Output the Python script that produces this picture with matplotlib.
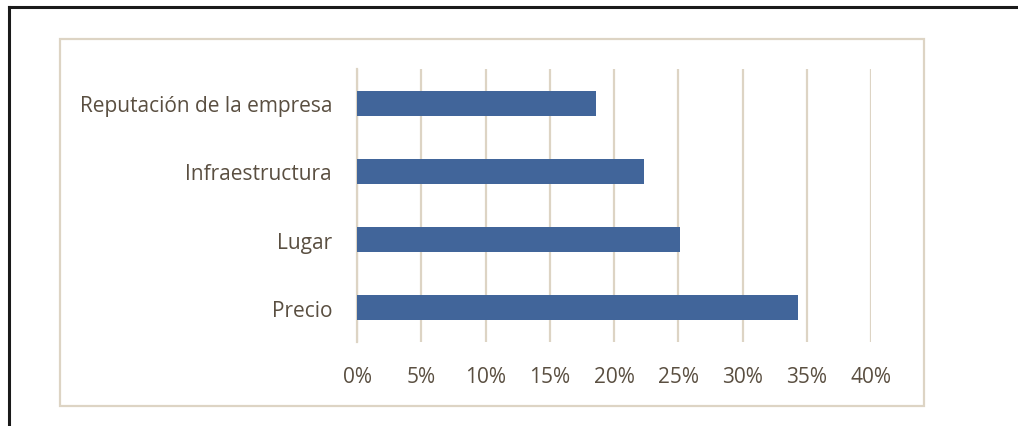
import matplotlib.pyplot as plt
from matplotlib.patches import Rectangle
from matplotlib.lines import Line2D
from matplotlib.ticker import FuncFormatter

# Factores de elección (porcentaje de respuestas)
categorias = ['Precio', 'Lugar', 'Infraestructura', 'Reputación de la empresa']
porcentajes = [34.3, 25.1, 22.3, 18.6]
ticks_x = [0, 5, 10, 15, 20, 25, 30, 35, 40]

color_barra = '#41659a'
color_texto = '#5a4f41'
color_rejilla = '#ddd4c4'

plt.rcParams['font.family'] = ['Open Sans', 'DejaVu Sans']

W, H = 1018, 427
fig = plt.figure(figsize=(W / 100, H / 100), dpi=100)

# Marco negro exterior (arriba e izquierda)
fig.add_artist(Line2D([9 / W, 1], [1 - 8 / H, 1 - 8 / H], color='#1a1a1a', lw=2.2,
                      transform=fig.transFigure))
fig.add_artist(Line2D([9 / W, 9 / W], [0, 1 - 8 / H], color='#1a1a1a', lw=2.2,
                      transform=fig.transFigure))

# Borde del área del gráfico
fig.add_artist(Rectangle((60 / W, 1 - 407 / H), (924 - 60) / W, (407 - 40) / H,
                         transform=fig.transFigure, fill=False,
                         edgecolor=color_rejilla, lw=1.6))

ax = fig.add_axes([357 / W, 1 - 343 / H, (871 - 357) / W, (343 - 70) / H])
ax.barh(range(len(categorias)), porcentajes, height=0.365, color=color_barra, zorder=3)

ax.set_xlim(0, 40)
ax.set_ylim(-0.5, len(categorias) - 0.5)
ax.set_xticks(ticks_x)
ax.xaxis.set_major_formatter(FuncFormatter(lambda v, p: f'{v:.0f}%'))
ax.set_yticks(range(len(categorias)))
ax.set_yticklabels(categorias)

ax.grid(axis='x', color=color_rejilla, lw=1.6, zorder=0)
for s in ['top', 'right', 'bottom']:
    ax.spines[s].set_visible(False)
ax.spines['left'].set_color(color_rejilla)
ax.spines['left'].set_linewidth(1.6)

ax.tick_params(axis='both', length=0, labelsize=15, labelcolor=color_texto)
ax.tick_params(axis='x', pad=17)
ax.tick_params(axis='y', pad=18)
for t in ax.get_xticklabels() + ax.get_yticklabels():
    t.set_fontweight('medium')

fig.savefig('out.png', dpi=100)
